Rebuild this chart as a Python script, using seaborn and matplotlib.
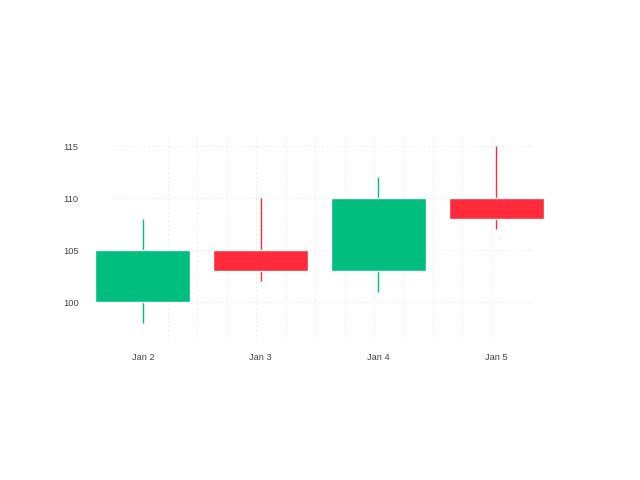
import matplotlib
matplotlib.use('Agg')
import matplotlib.pyplot as plt
import seaborn as sns
import numpy as np

# Dữ liệu nến (OHLC)
dates = ['Jan 2', 'Jan 3', 'Jan 4', 'Jan 5']
opens = [100, 105, 103, 110]
closes = [105, 103, 110, 108]
highs = [108, 110, 112, 115]
lows = [98, 102, 101, 107]
y_ticks = [100, 105, 110, 115]

UP = '#00BE7D'
DOWN = '#FF2B3A'

sns.set_theme(style='white')
plt.rcParams['font.family'] = ['Liberation Sans', 'DejaVu Sans']

fig = plt.figure(figsize=(6.4, 4.8), dpi=100)
ax = fig.add_axes([112/640, 1 - 340/480, 421/640, 203/480])

x = np.arange(len(dates))
colors = [UP if c >= o else DOWN for o, c in zip(opens, closes)]
bottoms = [min(o, c) for o, c in zip(opens, closes)]
heights = [abs(c - o) for o, c in zip(opens, closes)]

ax.vlines(x, lows, highs, colors=colors, linewidth=1.0, zorder=2, clip_on=False)
ax.bar(x, heights, bottom=bottoms, width=0.807, color=colors, zorder=3, clip_on=False)

ax.set_xlim(-0.263, 3.313)
ax.set_ylim(96.35, 115.87)

ax.set_xticks(x)
ax.set_xticklabels(dates)
ax.set_xticks(np.arange(0.2125, 3.0, 0.25), minor=True)
ax.set_yticks(y_ticks)

# Lưới chấm mờ
ax.grid(False)
ax.grid(True, which='minor', axis='x', color='#ececec', linestyle=(0, (2, 2.5)), linewidth=0.7)
ax.grid(True, which='major', axis='y', color='#ececec', linestyle=(0, (2, 2.5)), linewidth=0.7)
ax.set_axisbelow(True)

for s in ax.spines.values():
    s.set_visible(False)
ax.tick_params(axis='both', which='both', length=0, labelsize=6.7, labelcolor='#444444')
ax.tick_params(axis='y', pad=24)
ax.tick_params(axis='x', pad=9.5)

fig.savefig('out.png', dpi=100)
